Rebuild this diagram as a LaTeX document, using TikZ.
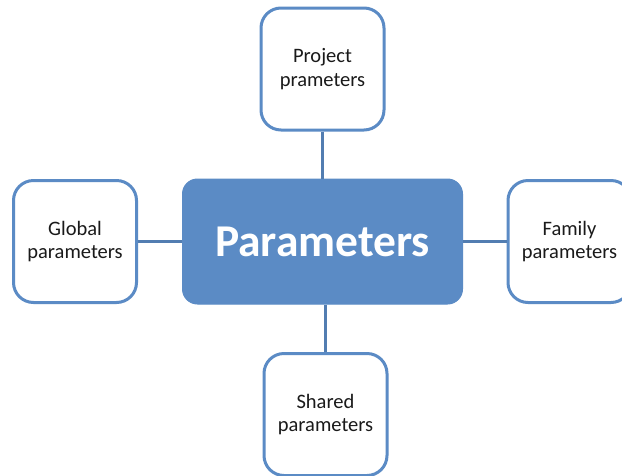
\documentclass[tikz,border=0pt]{standalone}
\usepackage{fontspec}
\setmainfont{Carlito}
\definecolor{pblue}{HTML}{5B8BC5}
\definecolor{ptext}{HTML}{1A1A1A}
\tikzset{
  sidebox/.style={draw=pblue, line width=3pt, fill=white, rounded corners=20pt,
    minimum width=123pt, minimum height=122pt, align=center, inner sep=0pt,
    font=\fontsize{20.5}{23.5}\selectfont, text=ptext},
  mainbox/.style={fill=pblue, draw=pblue, line width=1pt, rounded corners=15pt,
    minimum width=280pt, minimum height=125pt, inner sep=0pt,
    font=\fontsize{45.5}{52}\selectfont\bfseries, text=white},
  link/.style={draw=pblue!90!black, line width=3pt}
}
\begin{document}
\begin{tikzpicture}[x=1pt,y=-1pt]
\useasboundingbox (0,0) rectangle (622,475);
\clip (0,0) rectangle (622,475);
\fill[white] (0,0) rectangle (622,475);
\node[mainbox] (m) at (322.5,241.5) {Parameters};
\node[sidebox] (t) at (322.5,69) {Project\\prameters};
\node[sidebox] (l) at (75,241.5) {Global\\parameters};
\node[sidebox] (r) at (569.5,241.5) {Family\\parameters};
\node[sidebox] (b) at (325.5,414.5) {Shared\\parameters};
\draw[link] (t.south) -- (t.south |- m.north);
\draw[link] (l.east) -- (m.west);
\draw[link] (m.east) -- (r.west);
\draw[link] (b.north) -- (b.north |- m.south);
\end{tikzpicture}
\end{document}
